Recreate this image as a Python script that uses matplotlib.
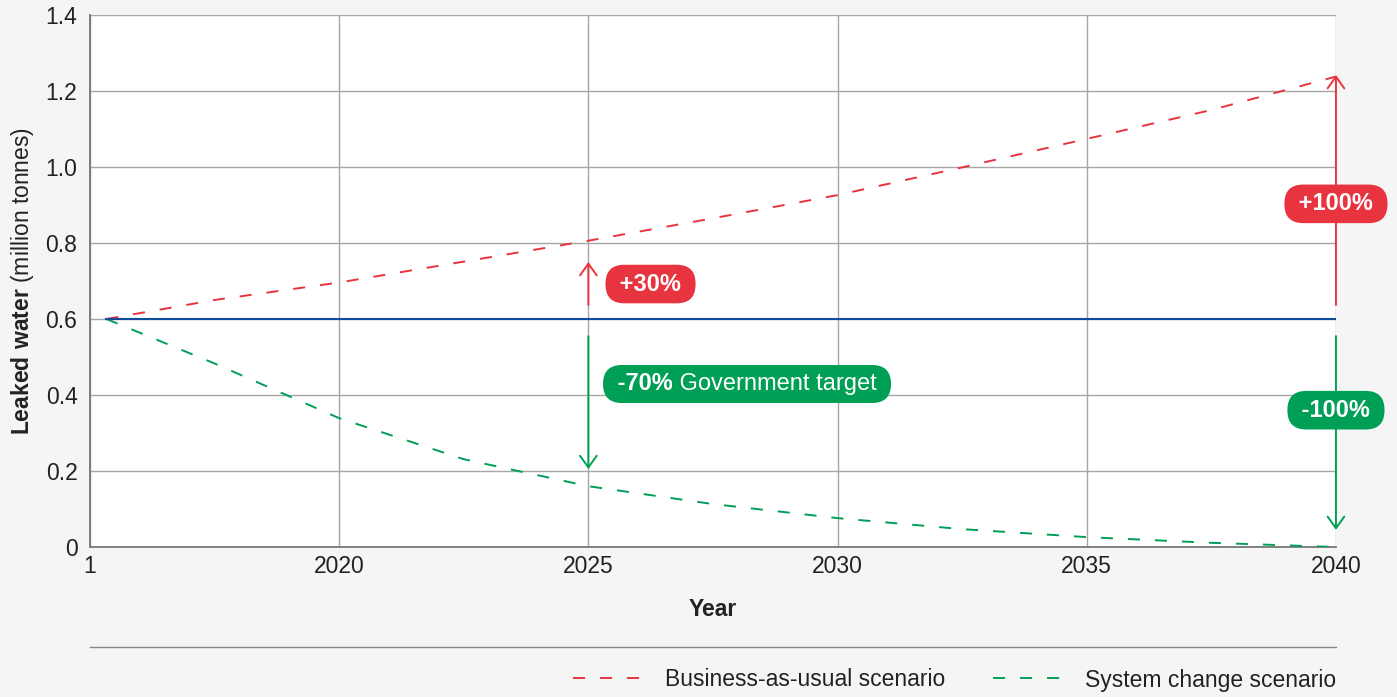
import numpy as np
import matplotlib
matplotlib.use("Agg")
import matplotlib.pyplot as plt
from matplotlib.offsetbox import TextArea, HPacker, AnnotationBbox

plt.rcParams["font.family"] = ["Liberation Sans", "DejaVu Sans"]
plt.rcParams["mathtext.fontset"] = "custom"
plt.rcParams["mathtext.rm"] = "Liberation Sans"
plt.rcParams["mathtext.bf"] = "Liberation Sans:bold"

# data
years = [2015.33, 2017.5, 2020, 2022.5, 2025, 2027.5, 2030, 2032.5, 2035, 2037.5, 2040]
bau = [0.60, 0.65, 0.696, 0.751, 0.806, 0.865, 0.926, 0.999, 1.074, 1.15, 1.238]
system_change = [0.60, 0.483, 0.339, 0.231, 0.160, 0.113, 0.076, 0.047, 0.026, 0.011, 0.0]
baseline = 0.6
xticks = [2015, 2020, 2025, 2030, 2035, 2040]
xtick_labels = ["1", "2020", "2025", "2030", "2035", "2040"]
yticks = [0, 0.2, 0.4, 0.6, 0.8, 1.0, 1.2, 1.4]
ytick_labels = ["0", "0.2", "0.4", "0.6", "0.8", "1.0", "1.2", "1.4"]

red = "#E8343F"
green = "#009F56"
blue = "#0F4C9A"
txt = "#222222"
fs = 16.5
dash = (0, (6.2, 7.7))

fig = plt.figure(figsize=(13.97, 6.97), dpi=100, facecolor="#F5F5F5")
ax = fig.add_axes([0.0644, 0.2152, 0.8919, 0.7633])
ax.set_facecolor("white")

ax.plot(years, bau, color=red, lw=1.4, ls=dash, label="Business-as-usual scenario", zorder=3)
ax.plot(years, system_change, color=green, lw=1.4, ls=dash, label="System change scenario", zorder=3)
ax.plot([years[0], 2040], [baseline, baseline], color=blue, lw=1.5, zorder=3)

ax.set_xlim(2015, 2040)
ax.set_ylim(0, 1.4)
ax.set_xticks(xticks)
ax.set_xticklabels(xtick_labels)
ax.set_yticks(yticks)
ax.set_yticklabels(ytick_labels)
ax.tick_params(length=0, labelsize=fs, colors=txt)
ax.tick_params(axis="y", pad=9)
ax.tick_params(axis="x", pad=6)
ax.grid(True, color="#A6A6A6", lw=1.0)
for s in ["top", "right"]:
    ax.spines[s].set_visible(False)
for s in ["left", "bottom"]:
    ax.spines[s].set_color("#777777")
    ax.spines[s].set_linewidth(1.3)

ax.set_ylabel(r"$\mathbf{Leaked\ water}$ (million tonnes)", fontsize=fs, color=txt, labelpad=7)
ax.set_xlabel("Year", fontsize=fs, fontweight="bold", color=txt, labelpad=14)


def arrow(x, y0, y1, color):
    ax.annotate("", xy=(x, y1), xytext=(x, y0),
                arrowprops=dict(arrowstyle="->,head_length=0.42,head_width=0.3",
                                color=color, lw=1.4, shrinkA=0, shrinkB=0,
                                mutation_scale=20),
                annotation_clip=False, zorder=4)


arrow(2025, 0.637, 0.75, red)
arrow(2025, 0.555, 0.205, green)
arrow(2040, 0.637, 1.242, red)
arrow(2040, 0.555, 0.045, green)

pill = "round,pad=0.33,rounding_size=0.8"
lfs = 17
ax.text(2025.5, 0.692, " +30% ", color="white", fontsize=lfs, fontweight="bold",
        ha="left", va="center", zorder=5, bbox=dict(boxstyle=pill, fc=red, ec="none"))
ax.text(2040, 0.903, " +100% ", color="white", fontsize=lfs, fontweight="bold",
        ha="center", va="center", zorder=5, clip_on=False,
        bbox=dict(boxstyle=pill, fc=red, ec="none"))
ax.text(2040, 0.36, " -100% ", color="white", fontsize=lfs, fontweight="bold",
        ha="center", va="center", zorder=5, clip_on=False,
        bbox=dict(boxstyle=pill, fc=green, ec="none"))

label = HPacker(children=[
    TextArea(" -70%", textprops=dict(color="white", fontsize=lfs, fontweight="bold")),
    TextArea(" Government target ", textprops=dict(color="white", fontsize=lfs)),
], align="baseline", pad=0, sep=0)
ab = AnnotationBbox(label, (2025.45, 0.429), box_alignment=(0, 0.5), frameon=True,
                    pad=0.33, fontsize=lfs,
                    bboxprops=dict(boxstyle="round,pad=0.33,rounding_size=0.8",
                                   fc=green, ec="none"), zorder=5)
ax.add_artist(ab)

# separator line above legend
fig.add_artist(plt.Line2D([90 / 1397, 1336 / 1397], [1 - 647 / 697, 1 - 647 / 697],
                          color="#888888", lw=1.0))

fig.legend(loc="center right", bbox_to_anchor=(1336 / 1397, 1 - 680 / 697), ncol=2,
           frameon=False, fontsize=fs, handlelength=2.9, handletextpad=1.1,
           columnspacing=2.1, borderpad=0, borderaxespad=0, labelcolor=txt)

fig.savefig("out.png", dpi=100, facecolor=fig.get_facecolor())
